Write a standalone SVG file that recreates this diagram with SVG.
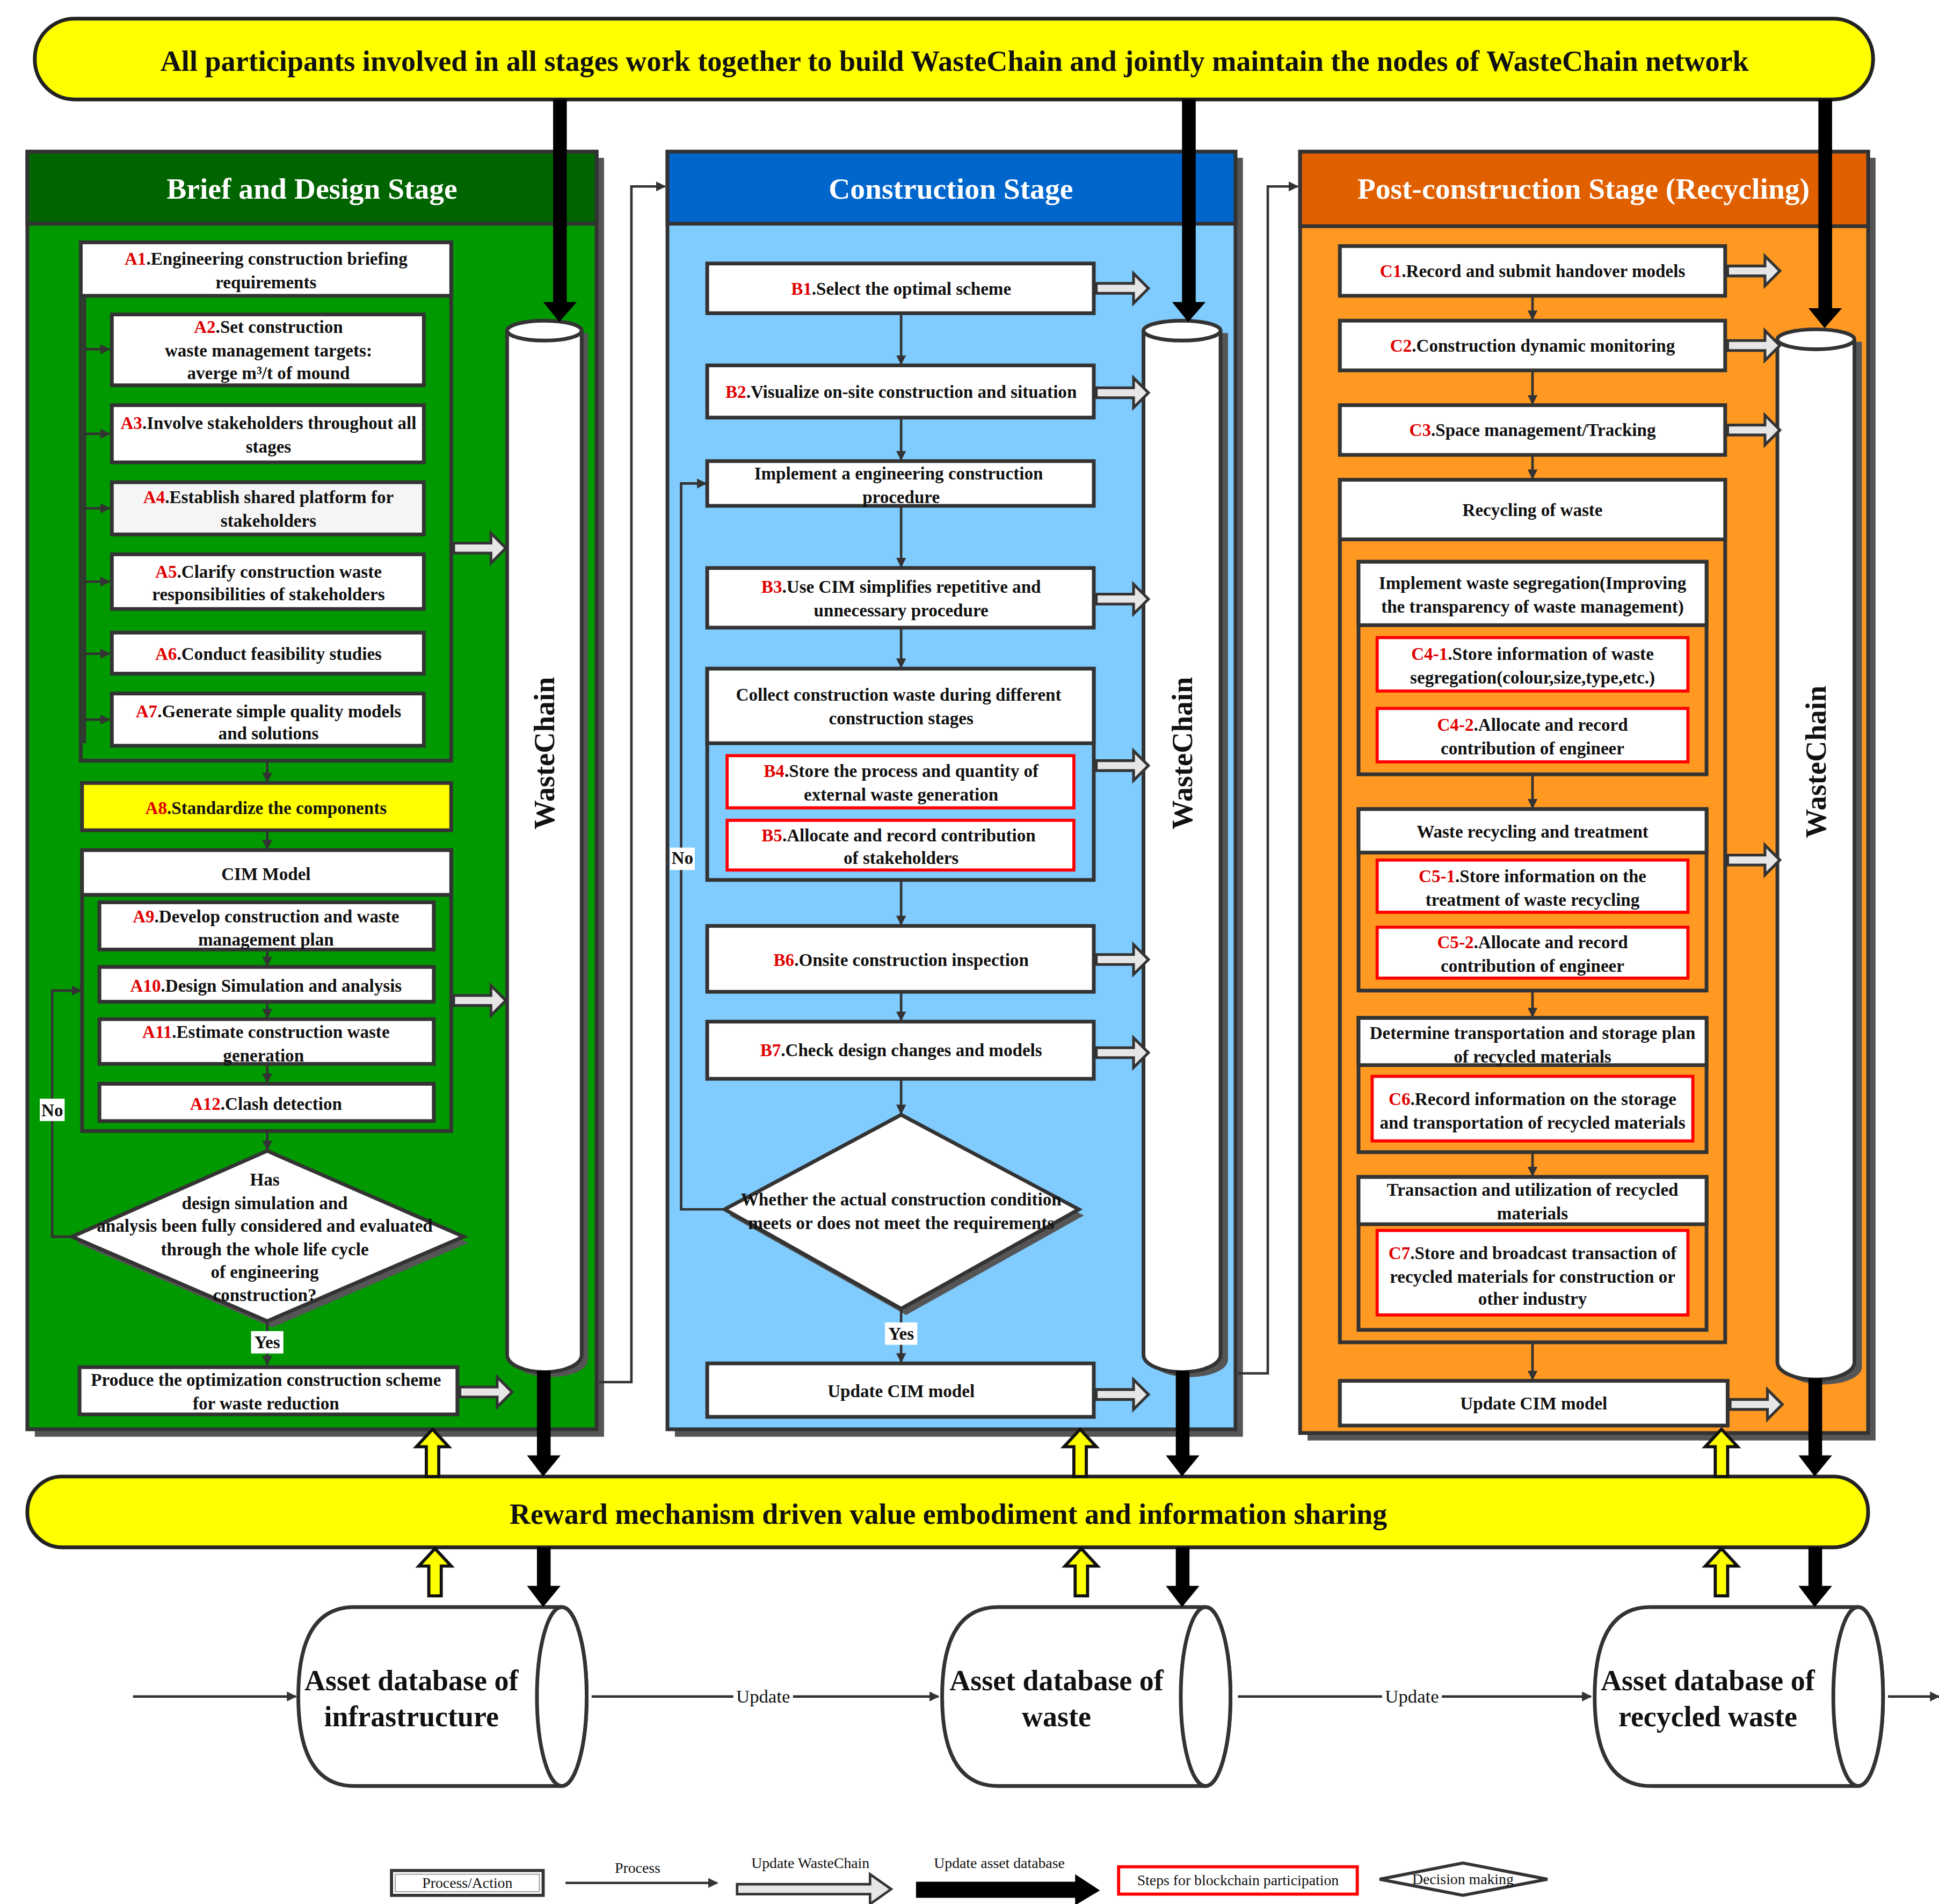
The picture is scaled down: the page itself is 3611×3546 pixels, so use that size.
<svg xmlns="http://www.w3.org/2000/svg" width="3611" height="3546" viewBox="0 0 3611 3546">
<defs>
<style>
text{font-family:"Liberation Serif","Times New Roman",serif;font-weight:bold;text-anchor:middle;fill:#111}
.t{font-size:14.3px}
.h{font-size:24px;fill:#fff}
.r{fill:#e00000}
.bx{fill:#fff;stroke:#333;stroke-width:3}
.grp{fill:none;stroke:#333;stroke-width:3}
.rb{fill:#fff;stroke:#ff0000;stroke-width:2.5}
.ln{fill:none;stroke:#333;stroke-width:2;marker-end:url(#ah)}
.blk{fill:#000}
.cyl{fill:#fff;stroke:#333;stroke-width:3}
.lbl{fill:#fff}
.wc{font-size:23.5px}
.db{font-size:23.3px}
.lg{font-size:12px;font-weight:normal}
</style>
<marker id="ah" viewBox="0 0 10 10" refX="9" refY="5" markerWidth="4" markerHeight="4" orient="auto"><path d="M0,0 L10,5 L0,10 Z" fill="#333"/></marker>
<path id="ha" d="M0,-4 L30,-4 L30,-12 L42,0 L30,12 L30,4 L0,4 Z" fill="#e6e6e6" stroke="#333" stroke-width="2.2"/>
<path id="ya" d="M-5,38 L-5,14 L-13,14 L0,0 L13,14 L5,14 L5,38 Z" fill="#ffff00" stroke="#111" stroke-width="2.5"/>
</defs>
<rect width="3611" height="3546" fill="#fff"/>
<g transform="scale(2.3147)">
<g id="top-banner">
<rect x="28" y="15" width="1479" height="65" rx="32" fill="#ffff00" stroke="#222" stroke-width="3"/>
<text x="768" y="57" style="font-size:23.4px">All participants involved in all stages work together to build WasteChain and jointly maintain the nodes of WasteChain network</text>
</g>
<g id="stage-a">
<rect x="28" y="127" width="458" height="1029" fill="#555"/>
<rect x="22" y="122" width="458" height="1028" fill="#009900" stroke="#333" stroke-width="3"/>
<rect x="22" y="122" width="458" height="58" fill="#006400" stroke="#333" stroke-width="3"/>
<text x="251" y="160" class="h">Brief and Design Stage</text>
</g>
<g id="stage-b">
<rect x="543" y="127" width="457" height="1029" fill="#555"/>
<rect x="537" y="122" width="457" height="1028" fill="#80ccff" stroke="#333" stroke-width="3"/>
<rect x="537" y="122" width="457" height="58" fill="#0066cc" stroke="#333" stroke-width="3"/>
<text x="765" y="160" class="h">Construction Stage</text>
</g>
<g id="stage-c">
<rect x="1052" y="127" width="457" height="1032" fill="#555"/>
<rect x="1046" y="122" width="457" height="1031" fill="#ff9922" stroke="#333" stroke-width="3"/>
<rect x="1046" y="122" width="457" height="60" fill="#e06000" stroke="#333" stroke-width="3"/>
<text x="1274" y="160" class="h">Post-construction Stage (Recycling)</text>
</g>
<g id="wastechain-cylinders">
<path d="M413,268 L413,1094 A30,14 0 0 0 473,1094 L473,268" fill="#555"/>
<path d="M408,266 L408,1090 A30,14 0 0 0 468,1090 L468,266" class="cyl"/>
<ellipse cx="438" cy="266" rx="30" ry="8" class="cyl"/>
<text transform="translate(446,606) rotate(-90)" class="wc">WasteChain</text>
<path d="M926,268 L926,1094 A31,14 0 0 0 988,1094 L988,268" fill="#555"/>
<path d="M920,266 L920,1090 A31,14 0 0 0 982,1090 L982,266" class="cyl"/>
<ellipse cx="951" cy="266" rx="31" ry="8" class="cyl"/>
<text transform="translate(959,606) rotate(-90)" class="wc">WasteChain</text>
<path d="M1436,275 L1436,1100 A31,14 0 0 0 1498,1100 L1498,275" fill="#555"/>
<path d="M1430,273 L1430,1096 A31,14 0 0 0 1492,1096 L1492,273" class="cyl"/>
<ellipse cx="1461" cy="273" rx="31" ry="8" class="cyl"/>
<text transform="translate(1469,613) rotate(-90)" class="wc">WasteChain</text>
</g>
<g id="nodes-a">
<rect x="65" y="195" width="298" height="417" class="grp"/>
<rect x="65" y="195" width="298" height="43" class="bx"/>
<text x="214" y="213" class="t"><tspan class="r">A1</tspan>.Engineering construction briefing</text>
<text x="214" y="232" class="t">requirements</text>
<rect x="90" y="253" width="251" height="57" class="bx"/>
<text x="216" y="268" class="t"><tspan class="r">A2</tspan>.Set construction</text>
<text x="216" y="287" class="t">waste management targets:</text>
<text x="216" y="305" class="t">averge m³/t of mound</text>
<rect x="90" y="326" width="251" height="46" class="bx"/>
<text x="216" y="345" class="t"><tspan class="r">A3</tspan>.Involve stakeholders throughout all</text>
<text x="216" y="364" class="t">stages</text>
<rect x="90" y="388" width="251" height="42" class="bx" style="fill:#f5f5f5"/>
<text x="216" y="405" class="t"><tspan class="r">A4</tspan>.Establish shared platform for</text>
<text x="216" y="424" class="t">stakeholders</text>
<rect x="90" y="446" width="251" height="44" class="bx"/>
<text x="216" y="465" class="t"><tspan class="r">A5</tspan>.Clarify construction waste</text>
<text x="216" y="483" class="t">responsibilities of stakeholders</text>
<rect x="90" y="509" width="251" height="33" class="bx"/>
<text x="216" y="531" class="t"><tspan class="r">A6</tspan>.Conduct feasibility studies</text>
<rect x="90" y="558" width="251" height="42" class="bx"/>
<text x="216" y="577" class="t"><tspan class="r">A7</tspan>.Generate simple quality models</text>
<text x="216" y="595" class="t">and solutions</text>
<rect x="66" y="630" width="297" height="38" class="bx" style="fill:#ffff00"/>
<text x="214" y="655" class="t"><tspan class="r">A8</tspan>.Standardize the components</text>
<rect x="66" y="684" width="297" height="226" class="grp"/>
<rect x="66" y="684" width="297" height="36" class="bx"/>
<text x="214" y="708" class="t">CIM Model</text>
<rect x="80" y="726" width="269" height="38" class="bx"/>
<text x="214" y="742" class="t"><tspan class="r">A9</tspan>.Develop construction and waste</text>
<text x="214" y="761" class="t">management plan</text>
<rect x="80" y="778" width="269" height="28" class="bx"/>
<text x="214" y="798" class="t"><tspan class="r">A10</tspan>.Design Simulation and analysis</text>
<rect x="80" y="820" width="269" height="36" class="bx"/>
<text x="214" y="835" class="t"><tspan class="r">A11</tspan>.Estimate construction waste</text>
<text x="212" y="854" class="t">generation</text>
<rect x="80" y="872" width="269" height="30" class="bx"/>
<text x="214" y="893" class="t"><tspan class="r">A12</tspan>.Clash detection</text>
<path d="M62,1000 L219,931 L377,1000 L219,1068 Z" fill="#555"/>
<path d="M58,995 L215,926 L373,995 L215,1063 Z" class="bx"/>
<text x="213" y="954" class="t">Has</text>
<text x="213" y="973" class="t">design simulation and</text>
<text x="213" y="991" class="t">analysis been fully considered and evaluated</text>
<text x="213" y="1010" class="t">through the whole life cycle</text>
<text x="213" y="1028" class="t">of engineering</text>
<text x="213" y="1047" class="t">construction?</text>
<rect x="64" y="1100" width="304" height="38" class="bx"/>
<text x="214" y="1115" class="t">Produce the optimization construction scheme</text>
<text x="214" y="1134" class="t">for waste reduction</text>
</g>
<g id="nodes-b">
<rect x="569" y="212" width="311" height="40" class="bx"/>
<text x="725" y="237" class="t"><tspan class="r">B1</tspan>.Select the optimal scheme</text>
<rect x="569" y="294" width="311" height="42" class="bx"/>
<text x="725" y="320" class="t"><tspan class="r">B2</tspan>.Visualize on-site construction and situation</text>
<rect x="569" y="371" width="311" height="36" class="bx"/>
<text x="723" y="386" class="t">Implement a engineering construction</text>
<text x="725" y="405" class="t">procedure</text>
<rect x="569" y="457" width="311" height="48" class="bx"/>
<text x="725" y="477" class="t"><tspan class="r">B3</tspan>.Use CIM simplifies repetitive and</text>
<text x="725" y="496" class="t">unnecessary procedure</text>
<rect x="569" y="538" width="311" height="170" class="grp"/>
<rect x="569" y="538" width="311" height="60" class="bx"/>
<text x="723" y="564" class="t">Collect construction waste during different</text>
<text x="725" y="583" class="t">construction stages</text>
<rect x="585" y="608" width="279" height="42" class="rb"/>
<text x="725" y="625" class="t"><tspan class="r">B4</tspan>.Store the process and quantity of</text>
<text x="725" y="644" class="t">external waste generation</text>
<rect x="585" y="660" width="279" height="40" class="rb"/>
<text x="723" y="677" class="t"><tspan class="r">B5</tspan>.Allocate and record contribution</text>
<text x="725" y="695" class="t">of stakeholders</text>
<rect x="569" y="745" width="311" height="53" class="bx"/>
<text x="725" y="777" class="t"><tspan class="r">B6</tspan>.Onsite construction inspection</text>
<rect x="569" y="822" width="311" height="46" class="bx"/>
<text x="725" y="850" class="t"><tspan class="r">B7</tspan>.Check design changes and models</text>
<path d="M587,978 L729,902 L872,978 L729,1058 Z" fill="#555"/>
<path d="M583,973 L725,897 L868,973 L725,1053 Z" class="bx"/>
<text x="725" y="970" class="t">Whether the actual construction condition</text>
<text x="725" y="989" class="t">meets or does not meet the requirements</text>
<rect x="569" y="1097" width="311" height="43" class="bx"/>
<text x="725" y="1124" class="t">Update CIM model</text>
</g>
<g id="nodes-c">
<rect x="1078" y="198" width="310" height="40" class="bx"/>
<text x="1233" y="223" class="t"><tspan class="r">C1</tspan>.Record and submit handover models</text>
<rect x="1078" y="258" width="310" height="40" class="bx"/>
<text x="1233" y="283" class="t"><tspan class="r">C2</tspan>.Construction dynamic monitoring</text>
<rect x="1078" y="326" width="310" height="40" class="bx"/>
<text x="1233" y="351" class="t"><tspan class="r">C3</tspan>.Space management/Tracking</text>
<rect x="1078" y="386" width="310" height="694" class="grp"/>
<rect x="1078" y="386" width="310" height="48" class="bx"/>
<text x="1233" y="415" class="t">Recycling of waste</text>
<rect x="1093" y="452" width="280" height="171" class="grp"/>
<rect x="1093" y="452" width="280" height="51" class="bx"/>
<text x="1233" y="474" class="t">Implement waste segregation(Improving</text>
<text x="1233" y="493" class="t">the transparency of waste management)</text>
<rect x="1108" y="513" width="250" height="43" class="rb"/>
<text x="1233" y="531" class="t"><tspan class="r">C4-1</tspan>.Store information of waste</text>
<text x="1233" y="550" class="t">segregation(colour,size,type,etc.)</text>
<rect x="1108" y="570" width="250" height="43" class="rb"/>
<text x="1233" y="588" class="t"><tspan class="r">C4-2</tspan>.Allocate and record</text>
<text x="1233" y="607" class="t">contribution of engineer</text>
<rect x="1093" y="651" width="280" height="146" class="grp"/>
<rect x="1093" y="651" width="280" height="35" class="bx"/>
<text x="1233" y="674" class="t">Waste recycling and treatment</text>
<rect x="1108" y="692" width="250" height="42" class="rb"/>
<text x="1233" y="710" class="t"><tspan class="r">C5-1</tspan>.Store information on the</text>
<text x="1233" y="729" class="t">treatment of waste recycling</text>
<rect x="1108" y="746" width="250" height="41" class="rb"/>
<text x="1233" y="763" class="t"><tspan class="r">C5-2</tspan>.Allocate and record</text>
<text x="1233" y="782" class="t">contribution of engineer</text>
<rect x="1093" y="819" width="280" height="108" class="grp"/>
<rect x="1093" y="819" width="280" height="38" class="bx"/>
<text x="1233" y="836" class="t">Determine transportation and storage plan</text>
<text x="1233" y="855" class="t">of recycled materials</text>
<rect x="1104" y="866" width="258" height="52" class="rb"/>
<text x="1233" y="889" class="t"><tspan class="r">C6</tspan>.Record information on the storage</text>
<text x="1233" y="908" class="t">and transportation of recycled materials</text>
<rect x="1093" y="947" width="280" height="123" class="grp"/>
<rect x="1093" y="947" width="280" height="38" class="bx"/>
<text x="1233" y="962" class="t">Transaction and utilization of recycled</text>
<text x="1233" y="981" class="t">materials</text>
<rect x="1108" y="990" width="250" height="68" class="rb"/>
<text x="1233" y="1013" class="t"><tspan class="r">C7</tspan>.Store and broadcast transaction of</text>
<text x="1233" y="1032" class="t">recycled materials for construction or</text>
<text x="1233" y="1050" class="t">other industry</text>
<rect x="1078" y="1111" width="312" height="36" class="bx"/>
<text x="1234" y="1134" class="t">Update CIM model</text>
</g>
<g id="reward-banner">
<rect x="22" y="1188" width="1481" height="57" rx="28" fill="#ffff00" stroke="#222" stroke-width="3"/>
<text x="763" y="1226" style="font-size:23.3px">Reward mechanism driven value embodiment and information sharing</text>
</g>
<g id="asset-dbs">
<path d="M285,1293 L452,1293 A20,72 0 0 1 452,1437 L285,1437 Q240,1437 240,1365 Q240,1293 285,1293 Z" class="cyl"/>
<ellipse cx="452" cy="1365" rx="20" ry="72" class="cyl"/>
<text x="331" y="1360" class="db">Asset database of</text>
<text x="331" y="1389" class="db">infrastructure</text>
<path d="M803,1293 L970,1293 A20,72 0 0 1 970,1437 L803,1437 Q758,1437 758,1365 Q758,1293 803,1293 Z" class="cyl"/>
<ellipse cx="970" cy="1365" rx="20" ry="72" class="cyl"/>
<text x="850" y="1360" class="db">Asset database of</text>
<text x="850" y="1389" class="db">waste</text>
<path d="M1328,1293 L1495,1293 A20,72 0 0 1 1495,1437 L1328,1437 Q1283,1437 1283,1365 Q1283,1293 1328,1293 Z" class="cyl"/>
<ellipse cx="1495" cy="1365" rx="20" ry="72" class="cyl"/>
<text x="1374" y="1360" class="db">Asset database of</text>
<text x="1374" y="1389" class="db">recycled waste</text>
</g>
<g id="connectors">
<path d="M68,238 L68,598" class="grp" style="stroke-width:2.5"/>
<path d="M68,281 L88,281" class="ln"/>
<path d="M68,349 L88,349" class="ln"/>
<path d="M68,409 L88,409" class="ln"/>
<path d="M68,468 L88,468" class="ln"/>
<path d="M68,526 L88,526" class="ln"/>
<path d="M68,579 L88,579" class="ln"/>
<path d="M215,612 L215,629" class="ln"/>
<path d="M215,668 L215,683" class="ln"/>
<path d="M215,764 L215,777" class="ln"/>
<path d="M215,806 L215,819" class="ln"/>
<path d="M215,856 L215,871" class="ln"/>
<path d="M215,910 L215,925" class="ln"/>
<path d="M58,995 L42,995 L42,797 L65,797" class="ln"/>
<rect x="32" y="884" width="20" height="18" class="lbl"/>
<text x="42" y="898" class="t">No</text>
<path d="M215,1063 L215,1098" class="ln"/>
<rect x="202" y="1071" width="26" height="18" class="lbl"/>
<text x="215" y="1085" class="t">Yes</text>
<path d="M725,252 L725,293" class="ln"/>
<path d="M725,336 L725,370" class="ln"/>
<path d="M725,407 L725,456" class="ln"/>
<path d="M725,505 L725,537" class="ln"/>
<path d="M725,708 L725,744" class="ln"/>
<path d="M725,798 L725,821" class="ln"/>
<path d="M725,868 L725,896" class="ln"/>
<path d="M583,973 L548,973 L548,389 L568,389" class="ln"/>
<rect x="539" y="682" width="20" height="18" class="lbl"/>
<text x="549" y="695" class="t">No</text>
<path d="M725,1053 L725,1096" class="ln"/>
<rect x="712" y="1064" width="26" height="18" class="lbl"/>
<text x="725" y="1078" class="t">Yes</text>
<path d="M1233,238 L1233,257" class="ln"/>
<path d="M1233,298 L1233,325" class="ln"/>
<path d="M1233,366 L1233,385" class="ln"/>
<path d="M1233,623 L1233,650" class="ln"/>
<path d="M1233,797 L1233,818" class="ln"/>
<path d="M1233,927 L1233,946" class="ln"/>
<path d="M1233,1080 L1233,1110" class="ln"/>
<path d="M482,1112 L508,1112 L508,150 L535,150" class="ln"/>
<path d="M996,1105 L1020,1105 L1020,150 L1044,150" class="ln"/>
<use href="#ha" x="365" y="441"/>
<use href="#ha" x="365" y="805"/>
<use href="#ha" x="370" y="1120"/>
<use href="#ha" x="882" y="232"/>
<use href="#ha" x="882" y="316"/>
<use href="#ha" x="882" y="482"/>
<use href="#ha" x="882" y="616"/>
<use href="#ha" x="882" y="772"/>
<use href="#ha" x="882" y="847"/>
<use href="#ha" x="882" y="1122"/>
<use href="#ha" x="1390" y="218"/>
<use href="#ha" x="1390" y="278"/>
<use href="#ha" x="1390" y="346"/>
<use href="#ha" x="1390" y="692"/>
<use href="#ha" x="1392" y="1130"/>
<g class="blk">
<rect x="445" y="80" width="11" height="165"/><path d="M437,243 L464,243 L450,259 Z"/>
<rect x="951" y="80" width="11" height="165"/><path d="M943,243 L970,243 L956,259 Z"/>
<rect x="1463" y="80" width="11" height="170"/><path d="M1455,248 L1482,248 L1468,264 Z"/>
<rect x="432" y="1103" width="11" height="70"/><path d="M424,1171 L451,1171 L437,1188 Z"/>
<rect x="946" y="1103" width="11" height="70"/><path d="M938,1171 L965,1171 L951,1188 Z"/>
<rect x="1455" y="1109" width="11" height="64"/><path d="M1447,1171 L1474,1171 L1460,1188 Z"/>
<rect x="432" y="1245" width="11" height="32"/><path d="M424,1276 L451,1276 L437,1293 Z"/>
<rect x="946" y="1245" width="11" height="32"/><path d="M938,1276 L965,1276 L951,1293 Z"/>
<rect x="1455" y="1245" width="11" height="32"/><path d="M1447,1276 L1474,1276 L1460,1293 Z"/>
</g>
<use href="#ya" x="348" y="1150"/>
<use href="#ya" x="869" y="1150"/>
<use href="#ya" x="1385" y="1150"/>
<use href="#ya" x="350" y="1246"/>
<use href="#ya" x="870" y="1246"/>
<use href="#ya" x="1385" y="1246"/>
<path d="M107,1365 L238,1365" class="ln"/>
<path d="M476,1365 L755,1365" class="ln"/>
<path d="M996,1365 L1280,1365" class="ln"/>
<path d="M1519,1365 L1560,1365" class="ln"/>
<rect x="590" y="1357" width="48" height="16" class="lbl"/>
<text x="614" y="1370" style="font-size:15px;font-weight:normal">Update</text>
<rect x="1112" y="1357" width="48" height="16" class="lbl"/>
<text x="1136" y="1370" style="font-size:15px;font-weight:normal">Update</text>
</g>
<g id="legend">
<rect x="315" y="1505" width="122" height="20" fill="#fff" stroke="#333" stroke-width="2.5"/>
<rect x="318" y="1508" width="116" height="14" fill="none" stroke="#999" stroke-width="0.8"/>
<text x="376" y="1519" class="lg">Process/Action</text>
<path d="M455,1515 L577,1515" class="ln"/>
<text x="513" y="1507" class="lg">Process</text>
<path d="M593,1516 L700,1516 L700,1508 L717,1520 L700,1532 L700,1524 L593,1524 Z" fill="#e6e6e6" stroke="#333" stroke-width="2"/>
<text x="652" y="1503" class="lg">Update WasteChain</text>
<path d="M737,1514 L865,1514 L865,1508 L885,1521 L865,1533 L865,1527 L737,1527 Z" fill="#000"/>
<text x="804" y="1503" class="lg">Update asset database</text>
<rect x="900" y="1502" width="192" height="22" fill="#fff" stroke="#ff0000" stroke-width="2.5"/>
<text x="996" y="1517" class="lg">Steps for blockchain participation</text>
<path d="M1110,1512 L1177,1499 L1245,1512 L1177,1525 Z" fill="#fff" stroke="#333" stroke-width="2.5"/>
<text x="1177" y="1516" class="lg">Decision making</text>
</g>
</g>
</svg>
